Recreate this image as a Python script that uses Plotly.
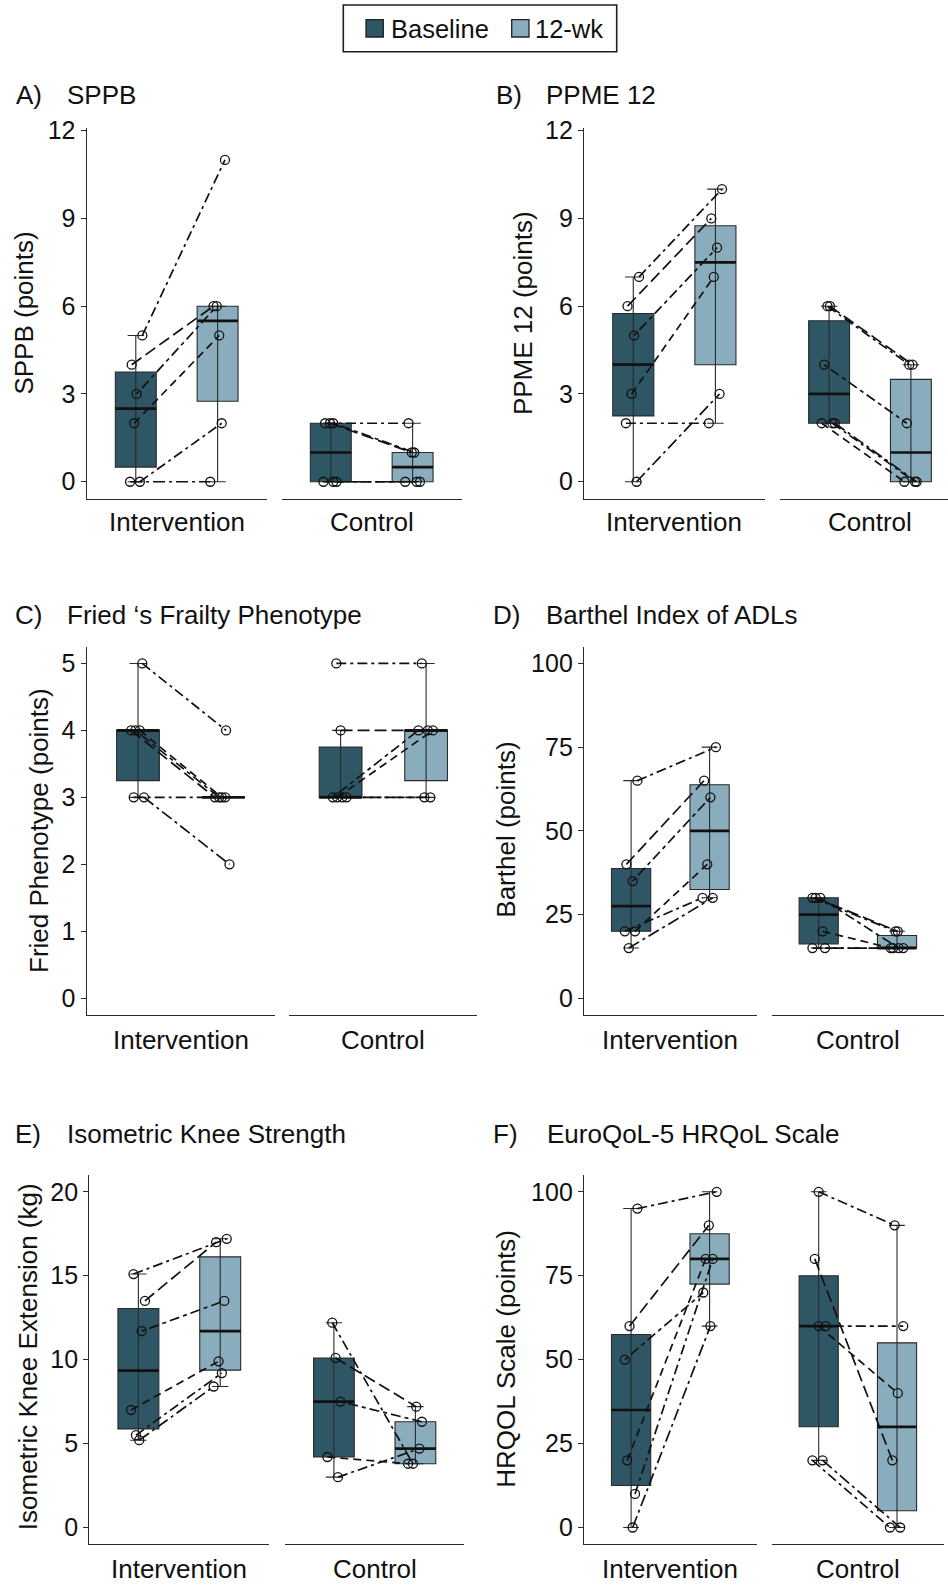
import numpy as np
import plotly.graph_objects as go

W, H = 948, 1586

# ---------------- data ----------------
groups = ["Intervention", "Control"]
timepoints = ["Baseline", "12-wk"]

panel_letters = ["A)", "B)", "C)", "D)", "E)", "F)"]
panel_titles = ["SPPB", "PPME 12", "Fried \u2018s Frailty Phenotype", "Barthel Index of ADLs",
                "Isometric Knee Strength", "EuroQoL-5 HRQoL Scale"]
y_titles = ["SPPB (points)", "PPME 12 (points)", "Fried Phenotype (points)", "Barthel (points)",
            "Isometric Knee Extension (kg)", "HRQOL Scale (points)"]
y_tickvals = [[0, 3, 6, 9, 12], [0, 3, 6, 9, 12], [0, 1, 2, 3, 4, 5],
              [0, 25, 50, 75, 100], [0, 5, 10, 15, 20], [0, 25, 50, 75, 100]]

# participant values, paired by index (baseline -> 12-wk)
sppb_int_base = [5, 4, 3, 2, 0, 0]
sppb_int_12wk = [11, 6, 6, 5, 2, 0]
sppb_con_base = [2, 2, 2, 0, 0, 0]
sppb_con_12wk = [2, 1, 1, 0, 0, 0]

ppme_int_base = [7, 6, 5, 3, 2, 0]
ppme_int_12wk = [10, 9, 8, 7, 2, 3]
ppme_con_base = [6, 6, 4, 2, 2, 2]
ppme_con_12wk = [4, 4, 2, 0, 0, 0]

fried_int_base = [5, 4, 4, 4, 3, 3]
fried_int_12wk = [4, 3, 3, 3, 3, 2]
fried_con_base = [5, 4, 3, 3, 3, 3]
fried_con_12wk = [5, 4, 4, 4, 3, 3]

barthel_int_base = [65, 40, 35, 20, 20, 15]
barthel_int_12wk = [75, 65, 60, 40, 30, 30]
barthel_con_base = [30, 30, 30, 20, 15, 15]
barthel_con_12wk = [20, 20, 15, 15, 15, 15]

knee_int_base = [15.1, 13.5, 11.7, 7.0, 5.5, 5.2]
knee_int_12wk = [17.2, 17.0, 13.5, 9.9, 9.2, 8.4]
knee_con_base = [12.2, 10.1, 7.5, 4.2, 3.0]
knee_con_12wk = [3.8, 7.2, 6.3, 3.8, 4.7]

hrqol_int_base = [95, 60, 50, 20, 10, 0]
hrqol_int_12wk = [100, 90, 70, 80, 80, 60]
hrqol_con_base = [100, 80, 60, 60, 20, 20]
hrqol_con_12wk = [90, 20, 60, 40, 0, 0]

panel_data = [
    [(sppb_int_base, sppb_int_12wk), (sppb_con_base, sppb_con_12wk)],
    [(ppme_int_base, ppme_int_12wk), (ppme_con_base, ppme_con_12wk)],
    [(fried_int_base, fried_int_12wk), (fried_con_base, fried_con_12wk)],
    [(barthel_int_base, barthel_int_12wk), (barthel_con_base, barthel_con_12wk)],
    [(knee_int_base, knee_int_12wk), (knee_con_base, knee_con_12wk)],
    [(hrqol_int_base, hrqol_int_12wk), (hrqol_con_base, hrqol_con_12wk)],
]

# ---------------- presentation (horizontal jitter of points, as drawn) ----------------
jitter = [
    [([.08, -.05, .01, -.02, .05, -.07], [.09, -.05, -.01, .02, .05, -.09]),
     ([-.07, -.01, .03, -.09, .03, .07], [-.05, -.01, .02, -.09, .05, .09])],
    [([.07, -.07, .01, -.02, -.09, .04], [.08, -.05, .02, -.02, -.08, .05]),
     ([-.02, .01, -.06, -.09, .04, .07], [-.02, .02, -.05, -.08, .05, .07])],
    [([.05, -.08, -.03, .02, -.05, .07], [.03, -.10, -.05, -.02, .02, .07]),
     ([-.05, 0.0, -.09, -.04, .02, .07], [-.05, .02, -.09, .08, -.02, .05])],
    [([.08, -.06, .02, .05, -.08, -.03], [.08, -.07, .01, -.03, -.09, .04]),
     ([-.08, -.04, .02, .05, -.08, .08], [-.02, .01, .02, -.08, -.05, .08])],
    [([-.06, .08, .04, -.09, -.03, .01], [.08, -.05, .05, -.02, .02, -.08]),
     ([-.02, .02, .08, -.08, .05], [-.03, .01, .08, -.09, .05])],
    [([.08, -.02, -.08, -.05, .05, .02], [.09, -.01, -.08, -.05, .04, .01]),
     ([0.0, -.05, .09, 0.0, -.08, .05], [-.03, -.06, .08, .01, -.09, .04])],
]

# geometry in pixels: (interv x0,x1), (control x0,x1), y top, y bottom, y range
geom = [
    dict(xi=(86.7, 266.7), xc=(281.7, 461.7), yt=128.3, yb=499.3, yr=(-0.6, 12.08)),
    dict(xi=(584.0, 764.7), xc=(780.0, 960.0), yt=128.3, yb=499.3, yr=(-0.6, 12.08)),
    dict(xi=(86.7, 274.8), xc=(289.3, 477.4), yt=646.7, yb=1015.0, yr=(-0.25, 5.25)),
    dict(xi=(584.0, 756.7), xc=(771.7, 944.0), yt=646.7, yb=1015.0, yr=(-5, 105)),
    dict(xi=(89.3, 269.3), xc=(285.0, 464.3), yt=1175.0, yb=1544.3, yr=(-1, 21)),
    dict(xi=(584.0, 756.7), xc=(771.7, 944.0), yt=1175.0, yb=1544.3, yr=(-5, 105)),
]
title_pos = [(14, 65, 95), (494, 544, 95), (13.3, 65, 615), (491.3, 544, 615),
             (13.3, 65, 1134), (491.3, 544.7, 1134)]
ytitle_pos = [(24.3, 313.3), (522.8, 313.3), (39.2, 830.8), (505.7, 830),
              (27.5, 1356.7), (506.5, 1359.2)]
xlabel_y = [522, 522, 1040, 1040, 1569, 1569]

DARK = "#2E5664"
LIGHT = "#8AADBD"
INK = "#111111"
AXC = "#2a2a2a"
FONT = "Liberation Sans, Arial, sans-serif"
DASHES = ["10px,4px,3px,4px", "12px,5px", "4px,4px,10px,4px", "8px,5px",
          "10px,4px,3px,4px", "12px,4px,3px,4px"]
XR = (-0.6, 1.6)

fig = go.Figure()
layout = dict(width=W, height=H, margin=dict(l=0, r=0, t=0, b=0, autoexpand=False),
              paper_bgcolor="white", plot_bgcolor="rgba(0,0,0,0)",
              boxmode="overlay", font=dict(family=FONT, size=25, color=INK),
              showlegend=False)
annotations = []
shapes = []


def px(x):
    return x / W


def py(y):
    return 1 - y / H


for p in range(6):
    g = geom[p]
    yname = "yaxis" if p == 0 else f"yaxis{p + 1}"
    yref = "y" if p == 0 else f"y{p + 1}"
    for gi in range(2):
        axn = 2 * p + gi + 1
        xname = "xaxis" if axn == 1 else f"xaxis{axn}"
        xref = "x" if axn == 1 else f"x{axn}"
        x0, x1 = g["xi"] if gi == 0 else g["xc"]
        rng = list(XR)
        if x1 > W:
            rng[1] = XR[0] + (XR[1] - XR[0]) * (W - x0) / (x1 - x0)
            x1d = W
        else:
            x1d = x1
        layout[xname] = dict(domain=[px(x0), px(x1d)], range=rng, anchor=yref,
                             showline=True, linecolor=AXC, linewidth=1.4,
                             showticklabels=False, ticks="", showgrid=False,
                             zeroline=False, fixedrange=True)
        annotations.append(dict(text=groups[gi], x=px((x0 + x1) / 2), y=py(xlabel_y[p]),
                                xref="paper", yref="paper", showarrow=False,
                                xanchor="center", yanchor="middle",
                                font=dict(size=26, family=FONT, color=INK)))

        base, wk = panel_data[p][gi]
        jb, jw = jitter[p][gi]
        for t, (vals, col) in enumerate([(base, DARK), (wk, LIGHT)]):
            v = np.array(vals, float)
            q1, med, q3 = np.percentile(v, [25, 50, 75])
            iqr = q3 - q1
            lo = v[v >= q1 - 1.5 * iqr].min()
            hi = v[v <= q3 + 1.5 * iqr].max()
            fig.add_trace(go.Box(x=[t], q1=[q1], median=[med], q3=[q3],
                                 lowerfence=[q1], upperfence=[q3], width=0.5,
                                 whiskerwidth=0, fillcolor=col,
                                 line=dict(color=AXC, width=1.1), boxpoints=False,
                                 xaxis=xref, yaxis=yref, showlegend=False,
                                 hoverinfo="skip"))
            fig.add_trace(go.Scatter(x=[t - 0.1, t + 0.1, None, t, t, None, t - 0.1, t + 0.1],
                                     y=[lo, lo, None, lo, hi, None, hi, hi], mode="lines",
                                     line=dict(color=AXC, width=1.1), xaxis=xref, yaxis=yref,
                                     showlegend=False, hoverinfo="skip"))
            fig.add_trace(go.Scatter(x=[t - 0.25, t + 0.25], y=[med, med], mode="lines",
                                     line=dict(color=INK, width=2.7), xaxis=xref, yaxis=yref,
                                     showlegend=False, hoverinfo="skip"))
        for i in range(len(base)):
            fig.add_trace(go.Scatter(x=[0 + jb[i], 1 + jw[i]], y=[base[i], wk[i]], mode="lines",
                                     line=dict(color=INK, width=1.7, dash=DASHES[i % len(DASHES)]),
                                     xaxis=xref, yaxis=yref, showlegend=False, hoverinfo="skip"))
        for t, vals, j in [(0, base, jb), (1, wk, jw)]:
            fig.add_trace(go.Scatter(x=[t + o for o in j], y=vals, mode="markers",
                                     marker=dict(symbol="circle-open", size=9, color=INK,
                                                 line=dict(width=1.3, color=INK)),
                                     xaxis=xref, yaxis=yref, showlegend=False, hoverinfo="skip"))

    layout[yname] = dict(domain=[py(g["yb"]), py(g["yt"])], range=list(g["yr"]),
                         anchor="x" if p == 0 else f"x{2 * p + 1}",
                         showline=True, linecolor=AXC, linewidth=1.4,
                         ticks="outside", ticklen=5, tickwidth=1.4, tickcolor=AXC,
                         tickvals=y_tickvals[p], tickfont=dict(size=25, family=FONT, color=INK),
                         showgrid=False, zeroline=False, fixedrange=True)

    lx, tx, ty = title_pos[p]
    annotations.append(dict(text=panel_letters[p], x=px(lx), y=py(ty), xref="paper", yref="paper",
                            showarrow=False, xanchor="left", yanchor="middle",
                            font=dict(size=26, family=FONT, color=INK)))
    annotations.append(dict(text=panel_titles[p], x=px(tx), y=py(ty), xref="paper", yref="paper",
                            showarrow=False, xanchor="left", yanchor="middle",
                            font=dict(size=26, family=FONT, color=INK)))
    yx, yy = ytitle_pos[p]
    annotations.append(dict(text=y_titles[p], x=px(yx), y=py(yy), xref="paper", yref="paper",
                            showarrow=False, xanchor="center", yanchor="middle", textangle=-90,
                            font=dict(size=26, family=FONT, color=INK)))

# legend (box with two swatches)
shapes.append(dict(type="rect", xref="paper", yref="paper", x0=px(343.3), x1=px(616.7),
                   y0=py(51.7), y1=py(5), line=dict(color="#1e1e1e", width=1.6),
                   fillcolor="white", layer="above"))
for name, col, sx, tx in zip(timepoints, [DARK, LIGHT], [366.0, 511.7], [388.5, 532.5]):
    shapes.append(dict(type="rect", xref="paper", yref="paper", x0=px(sx), x1=px(sx + 17.3),
                       y0=py(37.0), y1=py(19.7), line=dict(color="#222222", width=1.3),
                       fillcolor=col, layer="above"))
    annotations.append(dict(text=name, x=px(tx), y=py(28.6), xref="paper", yref="paper",
                            showarrow=False, xanchor="left", yanchor="middle",
                            font=dict(size=25.5, family=FONT, color=INK)))

layout["annotations"] = annotations
layout["shapes"] = shapes
fig.update_layout(**layout)
fig.write_html("out.html")
